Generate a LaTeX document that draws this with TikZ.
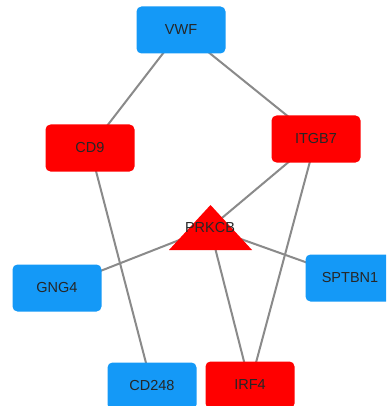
\documentclass[tikz,border=0pt]{standalone}
\usepackage{fontspec}
\setmainfont{Liberation Sans}
\usetikzlibrary{backgrounds}
\definecolor{nodeblue}{HTML}{1499F7}
\definecolor{nodered}{HTML}{FF0000}
\definecolor{edgegray}{HTML}{8A8A8A}
\begin{document}
\begin{tikzpicture}[x=1pt,y=-1pt,
  gene/.style={rounded corners=5pt, minimum width=89pt, minimum height=47pt, inner sep=0pt,
    font=\fontsize{14.5}{16}\selectfont, text=black!85},
  bluegene/.style={gene, fill=nodeblue},
  redgene/.style={gene, fill=nodered},
  link/.style={draw=edgegray, line width=2pt}]
\clip (0,0) rectangle (386,406);
\node[bluegene] (vwf) at (181,30) {VWF};
\node[redgene] (cd9) at (90,148) {CD9};
\node[redgene] (itgb7) at (316,139) {ITGB7};
\node[bluegene] (gng4) at (57,288) {GNG4};
\node[bluegene] (sptbn1) at (350,278) {SPTBN1};
\node[bluegene] (cd248) at (152,386) {CD248};
\node[redgene] (irf4) at (250,385) {IRF4};
\fill[nodered] (210.5,205) -- (252,250) -- (169,250) -- cycle;
\node[inner sep=0pt, font=\fontsize{14.5}{16}\selectfont, text=black!85] (prkcb) at (210,228) {PRKCB};
\begin{scope}[on background layer]
\fill[white] (0,0) rectangle (386,406);
\draw[link] (vwf.center) -- (cd9.center);
\draw[link] (vwf.center) -- (itgb7.center);
\draw[link] (itgb7.center) -- (prkcb.center);
\draw[link] (itgb7.center) -- (irf4.center);
\draw[link] (cd9.center) -- (cd248.center);
\draw[link] (prkcb.center) -- (gng4.center);
\draw[link] (prkcb.center) -- (sptbn1.center);
\draw[link] (prkcb.center) -- (irf4.center);
\end{scope}
\end{tikzpicture}
\end{document}
